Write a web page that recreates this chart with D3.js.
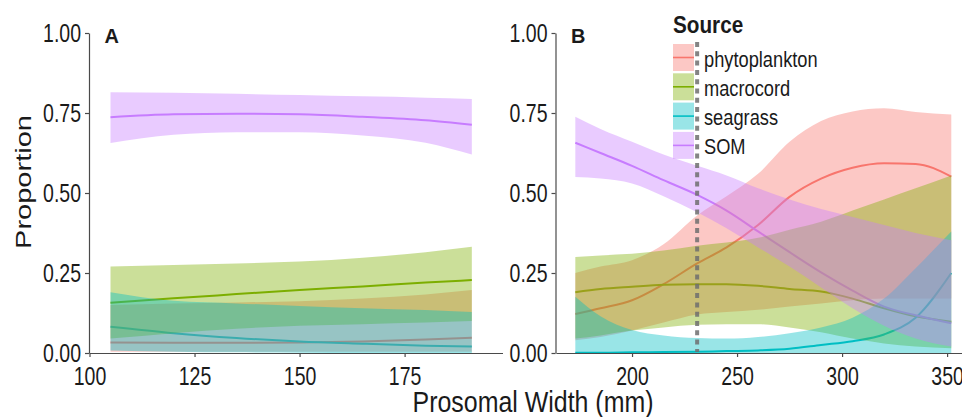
<!DOCTYPE html>
<html lang="en">
<head>
<meta charset="UTF-8">
<title>Source proportions by prosomal width</title>
<script src="https://d3js.org/d3.v7.min.js"></script>
<style>
  body { margin: 0; background: #fff; }
  svg text { font-family: "Liberation Sans", Arial, sans-serif; fill: #1a1a1a; }
  .axis path, .axis line { stroke: #4a4a4a; stroke-width: 1.2px; }
  .axis text { font-size: 25px; }
</style>
</head>
<body>
<svg width="962" height="417"></svg>
<script>
// legend order
const sources = ["phytoplankton", "macrocord", "seagrass", "SOM"];
const colors = ["#F8766D", "#7CAE00", "#00BFC4", "#C77CFF"];
const yTicks = [0, 0.25, 0.5, 0.75, 1];

// Panel A - prosomal width (mm)
const widthA = [105, 120, 135, 150, 165, 180, 191];
const phytoA = [0.033, 0.032, 0.032, 0.033, 0.036, 0.042, 0.048];
const phytoA_lo = [0.004, 0.004, 0.004, 0.004, 0.004, 0.004, 0.004];
const phytoA_hi = [0.150, 0.155, 0.158, 0.162, 0.170, 0.183, 0.197];
const macroA = [0.157, 0.171, 0.184, 0.197, 0.208, 0.220, 0.228];
const macroA_lo = [0.045, 0.062, 0.076, 0.085, 0.090, 0.095, 0.100];
const macroA_hi = [0.270, 0.275, 0.280, 0.286, 0.298, 0.315, 0.332];
const seagrassA = [0.082, 0.062, 0.047, 0.036, 0.029, 0.023, 0.020];
const seagrassA_lo = [0.008, 0.004, 0.002, 0.001, 0, 0, 0];
const seagrassA_hi = [0.190, 0.163, 0.155, 0.147, 0.140, 0.134, 0.128];
const somA = [0.737, 0.746, 0.748, 0.746, 0.738, 0.727, 0.713];
const somA_lo = [0.656, 0.682, 0.690, 0.690, 0.680, 0.657, 0.620];
const somA_hi = [0.815, 0.813, 0.810, 0.806, 0.802, 0.798, 0.794];

// Panel B
const widthB = [173, 185, 200, 215, 231, 245, 260, 275, 290, 305, 320, 335, 352];
const phytoB = [0.122, 0.140, 0.165, 0.215, 0.280, 0.330, 0.400, 0.488, 0.545, 0.579, 0.593, 0.591, 0.551];
const phytoB_lo = [0.040, 0.050, 0.070, 0.095, 0.120, 0.128, 0.135, 0.145, 0.155, 0.165, 0.170, 0.170, 0.170];
const phytoB_hi = [0.250, 0.270, 0.290, 0.340, 0.430, 0.490, 0.560, 0.660, 0.725, 0.755, 0.765, 0.753, 0.745];
const macroB = [0.190, 0.200, 0.207, 0.213, 0.215, 0.215, 0.210, 0.200, 0.192, 0.170, 0.140, 0.115, 0.098];
const macroB_lo = [0.045, 0.055, 0.070, 0.080, 0.088, 0.090, 0.090, 0.080, 0.065, 0.045, 0.030, 0.020, 0.015];
const macroB_hi = [0.300, 0.305, 0.310, 0.320, 0.335, 0.345, 0.360, 0.385, 0.410, 0.445, 0.480, 0.515, 0.555];
const seagrassB = [0.001, 0.001, 0.002, 0.003, 0.004, 0.006, 0.008, 0.013, 0.025, 0.037, 0.058, 0.110, 0.250];
const seagrassB_lo = [0, 0, 0, 0, 0, 0, 0, 0, 0, 0, 0, 0, 0];
const seagrassB_hi = [0.176, 0.115, 0.072, 0.055, 0.047, 0.045, 0.050, 0.062, 0.080, 0.110, 0.170, 0.265, 0.380];
const somB = [0.657, 0.625, 0.585, 0.540, 0.494, 0.445, 0.380, 0.315, 0.252, 0.195, 0.145, 0.118, 0.093];
const somB_lo = [0.550, 0.545, 0.530, 0.490, 0.440, 0.390, 0.330, 0.270, 0.205, 0.140, 0.085, 0.045, 0.020];
const somB_hi = [0.738, 0.700, 0.660, 0.620, 0.585, 0.555, 0.515, 0.480, 0.450, 0.425, 0.400, 0.375, 0.352];

const cutoffB = 231; // dashed reference line

function series(width, fit, lo, hi) {
  return width.map((w, i) => ({ w: w, fit: fit[i], lo: lo[i], hi: hi[i] }));
}

const panelA = [
  series(widthA, phytoA, phytoA_lo, phytoA_hi),
  series(widthA, macroA, macroA_lo, macroA_hi),
  series(widthA, seagrassA, seagrassA_lo, seagrassA_hi),
  series(widthA, somA, somA_lo, somA_hi)
];
const panelB = [
  series(widthB, phytoB, phytoB_lo, phytoB_hi),
  series(widthB, macroB, macroB_lo, macroB_hi),
  series(widthB, seagrassB, seagrassB_lo, seagrassB_hi),
  series(widthB, somB, somB_lo, somB_hi)
];

const svg = d3.select("svg");
const y = d3.scaleLinear().domain([0, 1]).range([353, 33]);
const xA = d3.scaleLinear().domain([100, 198.3]).range([89.5, 502.5]);
const xB = d3.scaleLinear().domain([163.8, 357.1]).range([556, 962]);

// the original figure is horizontally condensed, so text gets squeezed
const squeeze = 0.78;

function label(x, y0, size, s, txt) {
  return svg.append("text")
    .attr("transform", `translate(${x},${y0}) scale(${s},1)`)
    .attr("font-size", size).text(txt);
}

function drawPanel(x, data, ticks, name) {
  const g = svg.append("g");
  const line = d3.line().x(d => x(d.w)).y(d => y(d.fit)).curve(d3.curveMonotoneX);
  const area = d3.area().x(d => x(d.w)).y0(d => y(d.lo)).y1(d => y(d.hi)).curve(d3.curveMonotoneX);

  // lines sit under the ribbons
  data.forEach((s, i) => {
    g.append("path").datum(s).attr("d", line)
      .attr("fill", "none").attr("stroke", colors[i]).attr("stroke-width", 2);
  });
  data.forEach((s, i) => {
    g.append("path").datum(s).attr("d", area)
      .attr("fill", colors[i]).attr("fill-opacity", 0.4);
  });

  const ax = svg.append("g").attr("class", "axis")
    .attr("transform", `translate(${x.range()[0] - 0.5},0)`)
    .call(d3.axisLeft(y).tickValues(yTicks).tickFormat(d3.format(".2f"))
      .tickSize(4).tickSizeOuter(0));
  ax.selectAll("text").attr("x", -8 / squeeze).attr("transform", `scale(${squeeze},1)`);

  const bx = svg.append("g").attr("class", "axis")
    .attr("transform", "translate(0,353)")
    .call(d3.axisBottom(x).tickValues(ticks).tickSize(4).tickSizeOuter(0));
  bx.selectAll("text").attr("y", 32).attr("dy", null).attr("transform", `scale(${squeeze},1)`);

  label(x.range()[0] + 15, 43, 21, 0.95, name).attr("font-weight", "bold");
}

drawPanel(xA, panelA, [100, 125, 150, 175], "A");
drawPanel(xB, panelB, [200, 250, 300, 350], "B");

// axis titles
svg.append("text")
  .attr("transform", "translate(31,182) rotate(-90) scale(1,0.78)")
  .attr("text-anchor", "middle")
  .attr("font-size", 29).text("Proportion");
label(533, 411.5, 29, 0.86, "Prosomal Width (mm)").attr("text-anchor", "middle");

// legend
label(673, 33, 23, 0.9, "Source").attr("font-weight", "bold");
sources.forEach((s, i) => {
  const top = 44 + i * 29.3;
  svg.append("rect").attr("x", 673).attr("y", top).attr("width", 21).attr("height", 27)
    .attr("fill", colors[i]).attr("fill-opacity", 0.4);
  svg.append("line").attr("x1", 673).attr("x2", 694).attr("y1", top + 13.5).attr("y2", top + 13.5)
    .attr("stroke", colors[i]).attr("stroke-width", 1.6);
  label(704, top + 22.5, 22, 0.83, s);
});

// dashed reference line in panel B
svg.append("line")
  .attr("x1", xB(cutoffB)).attr("x2", xB(cutoffB))
  .attr("y1", 42).attr("y2", y(0) - 1)
  .attr("stroke", "#6e6e6e").attr("stroke-opacity", 0.85)
  .attr("stroke-width", 4).attr("stroke-dasharray", "5,4.3");
</script>
</body>
</html>
